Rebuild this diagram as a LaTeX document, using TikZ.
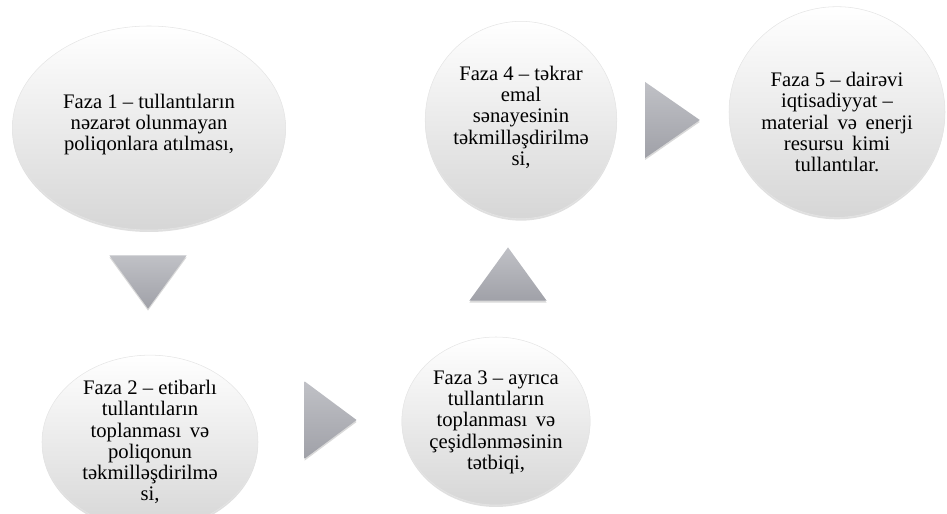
\documentclass[tikz,border=0pt]{standalone}
\usepackage{fontspec}
\setmainfont{Liberation Serif}
\usetikzlibrary{shapes.geometric,shadows}
\definecolor{pointgray}{RGB}{160,161,168}
\definecolor{pointlight}{RGB}{192,193,198}
\tikzset{
    x=0.75pt,
    y=0.75pt,
    phase/.style = {
        shape=ellipse,
        inner sep=0pt,
        align=center,
        draw=black!10,
        top color=white,
        bottom color=black!16,
        drop shadow={shadow xshift=0pt,shadow yshift=-1.5pt,opacity=0.25},
        font=\fontsize{15.5}{15.8}\selectfont
    },
    pointer/.style = {
        shape=isosceles triangle,
        isosceles triangle stretches,
        inner sep=0pt,
        top color=pointlight,
        bottom color=pointgray,
        drop shadow={shadow xshift=0pt,shadow yshift=-1.5pt,opacity=0.3}
    },
}

\begin{document}
\begin{tikzpicture}
            \useasboundingbox (0,0) rectangle (947,514);

            \node[phase, minimum width=205pt, minimum height=153pt] (faza1) at (149,386)
            {Faza 1 -- tullantıların\\nəzarət olunmayan\\poliqonlara atılması,\\[-7pt]};
            \node[phase, minimum width=162pt, minimum height=102pt] (faza2) at (150,72)
            {Faza 2 -- etibarlı\\tullantıların\\toplanması\, və\\poliqonun\\təkmilləşdirilmə\\si,};
            \node[phase, minimum width=133pt, minimum height=126pt] (faza3) at (496,93)
            {\\[-3.5pt]Faza 3 -- ayrıca\\tullantıların\\toplanması\, və\\çeşidlənməsinin\\tətbiqi,};
            \node[phase, minimum width=140pt, minimum height=148pt] (faza4) at (521,394)
            {Faza 4 -- təkrar\\emal\\sənayesinin\\təkmilləşdirilmə\\si,\\[-9.5pt]};
            \node[phase, minimum width=162pt, minimum height=158pt] (faza5) at (837,402)
            {\\[10pt]Faza 5 -- dairəvi\\iqtisadiyyat --\\material\, və\, enerji\\resursu\, kimi\\tullantılar.};

            \node[pointer, shape border rotate=270, minimum width=58pt, minimum height=40pt] (down) at (148,239) {};
            \node[pointer, minimum width=58pt, minimum height=39pt] (right1) at (324,94) {};
            \node[pointer, shape border rotate=90, minimum width=58pt, minimum height=40pt] (up) at (508,233) {};
            \node[pointer, minimum width=57pt, minimum height=41pt] (right2) at (665,394) {};
        \end{tikzpicture}
\end{document}
